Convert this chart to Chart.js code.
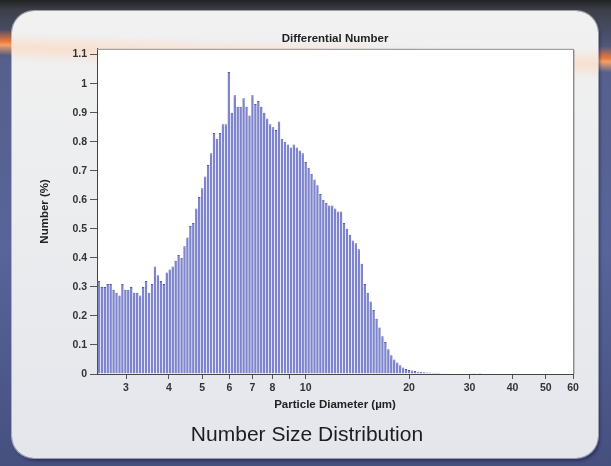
<!DOCTYPE html>
<html>
<head>
<meta charset="utf-8">
<script src="https://cdn.jsdelivr.net/npm/chart.js@4.4.1/dist/chart.umd.min.js"></script>
<style>
    html, body { margin: 0; padding: 0; }
    body {
        width: 611px; height: 466px; overflow: hidden; position: relative;
        background: linear-gradient(180deg, #232326 0px, #3d3f48 10px, #56608c 60px, #58649a 250px, #46507f 466px);
        font-family: "Liberation Sans", Arial, sans-serif;
    }
    .streak {
        position: absolute; left: -20px; top: 38px; width: 660px; height: 26px;
        background: linear-gradient(180deg, rgba(232,110,50,0) 0%, #e9773c 45%, #f3a06a 60%, rgba(232,110,50,0) 100%);
        transform: rotate(1.6deg);
    }
    .panel {
        position: absolute; left: 12px; top: 11px; width: 586px; height: 447px;
        border-radius: 22px; overflow: hidden;
        background: linear-gradient(180deg, #f1f1f1 0%, #ebecee 50%, #e4e6ec 100%);
        box-shadow: 0 0 0 1px rgba(255,255,255,0.5), 2px 3px 3px rgba(20,25,60,0.5);
    }
    .panel .glow {
        position: absolute; left: -20px; top: 30px; width: 640px; height: 30px;
        background: linear-gradient(180deg, rgba(255,215,190,0) 0%, rgba(255,210,180,0.55) 50%, rgba(255,215,190,0) 100%);
        transform: rotate(1.6deg);
    }
    #wrap { position: absolute; left: 0; top: 0; width: 611px; height: 466px; }
    .caption {
        position: absolute; left: 0; top: 422px; width: 614px; text-align: center;
        font-size: 21px; color: #1d1d1d;
    }
</style>
</head>
<body>
<div class="streak"></div>
<div class="panel"><div class="glow"></div></div>
<div id="wrap"><canvas id="sizeChart"></canvas></div>
<div class="caption">Number Size Distribution</div>

<script>
// channel diameters (µm), log spaced
const diameters = [
    2.500, 2.550, 2.601, 2.653, 2.706, 2.760, 2.815, 2.872, 2.929, 2.988,
    3.047, 3.108, 3.171, 3.234, 3.299, 3.365, 3.432, 3.501, 3.571, 3.642,
    3.715, 3.789, 3.865, 3.942, 4.021, 4.102, 4.184, 4.267, 4.353, 4.440,
    4.528, 4.619, 4.711, 4.806, 4.902, 5.000, 5.100, 5.202, 5.306, 5.412,
    5.520, 5.631, 5.743, 5.858, 5.975, 6.095, 6.217, 6.341, 6.468, 6.597,
    6.729, 6.864, 7.001, 7.141, 7.284, 7.429, 7.578, 7.729, 7.884, 8.042,
    8.203, 8.367, 8.534, 8.704, 8.879, 9.056, 9.237, 9.422, 9.611, 9.803,
    9.999, 10.199, 10.403, 10.611, 10.823, 11.040, 11.260, 11.486, 11.715, 11.950,
    12.189, 12.432, 12.681, 12.935, 13.193, 13.457, 13.726, 14.001, 14.281, 14.567,
    14.858, 15.155, 15.458, 15.767, 16.083, 16.404, 16.732, 17.067, 17.408, 17.756,
    18.112, 18.474, 18.843, 19.220, 19.605, 19.997, 20.397, 20.805, 21.221, 21.645,
    22.078, 22.520, 22.970, 23.429, 23.898, 24.376, 24.863, 25.361, 25.868, 26.385,
    26.913, 27.451, 28.000, 28.560, 29.131, 29.714, 30.308, 30.915, 31.533, 32.164
];

// number (%) per channel
const numberPct = [
    0.32, 0.30, 0.30, 0.31, 0.31, 0.29, 0.28, 0.27, 0.31, 0.29,
    0.29, 0.30, 0.28, 0.28, 0.27, 0.30, 0.32, 0.28, 0.31, 0.37,
    0.34, 0.32, 0.31, 0.35, 0.36, 0.37, 0.39, 0.41, 0.40, 0.44,
    0.47, 0.51, 0.52, 0.57, 0.61, 0.64, 0.68, 0.72, 0.76, 0.83,
    0.81, 0.83, 0.86, 0.86, 1.04, 0.90, 0.96, 0.92, 0.92, 0.95,
    0.92, 0.89, 0.96, 0.93, 0.94, 0.92, 0.90, 0.88, 0.86, 0.85,
    0.84, 0.87, 0.81, 0.80, 0.79, 0.78, 0.79, 0.78, 0.77, 0.76,
    0.73, 0.71, 0.69, 0.67, 0.65, 0.62, 0.60, 0.59, 0.58, 0.58,
    0.57, 0.56, 0.56, 0.52, 0.50, 0.48, 0.46, 0.45, 0.43, 0.38,
    0.31, 0.28, 0.25, 0.22, 0.19, 0.16, 0.13, 0.11, 0.085, 0.065,
    0.05, 0.04, 0.03, 0.022, 0.017, 0.014, 0.012, 0.010, 0.008, 0.007,
    0.006, 0.005, 0.005, 0.004, 0.004, 0.004, 0.003, 0.003, 0.003, 0.003,
    0.002, 0.002, 0.003, 0.002, 0.002, 0.002, 0.002, 0.001, 0.002, 0.001
];

const xTickValues = [3, 4, 5, 6, 7, 8, 9, 10, 20, 30, 40, 50, 60];
const xTickHidden = [9];

Chart.defaults.font.family = '"Liberation Sans", Arial, sans-serif';
Chart.defaults.color = '#333';

// white plot area with a grey frame on top and right
const plotFrame = {
    id: 'plotFrame',
    beforeDraw(chart) {
        const { ctx, chartArea: a } = chart;
        ctx.save();
        ctx.fillStyle = '#ffffff';
        ctx.fillRect(a.left, a.top, a.right - a.left, a.bottom - a.top);
        ctx.restore();
    },
    afterDraw(chart) {
        const { ctx, chartArea: a } = chart;
        ctx.save();
        ctx.strokeStyle = '#8a8a8a';
        ctx.lineWidth = 1;
        ctx.beginPath();
        ctx.moveTo(a.left, a.top + 0.5);
        ctx.lineTo(a.right + 0.5, a.top + 0.5);
        ctx.lineTo(a.right + 0.5, a.bottom);
        ctx.stroke();
        ctx.strokeStyle = 'rgba(120,120,130,0.35)';
        ctx.beginPath();
        ctx.moveTo(a.right + 1.5, a.top + 1);
        ctx.lineTo(a.right + 1.5, a.bottom);
        ctx.stroke();
        ctx.restore();
    }
};

const ctx = document.getElementById('sizeChart').getContext('2d');
const sizeChart = new Chart(ctx, {
    type: 'bar',
    data: {
        datasets: [{
            label: 'Number (%)',
            data: diameters.map((d, i) => ({ x: d, y: numberPct[i] })),
            backgroundColor: 'rgba(112,120,198,0.9)',
            borderColor: 'rgba(74,82,168,0.95)',
            borderWidth: { top: 1, left: 0, right: 0, bottom: 0 },
            borderSkipped: 'bottom',
            barPercentage: 1,
            categoryPercentage: 0.88
        }]
    },
    options: {
        responsive: true,
        maintainAspectRatio: false,
        animation: false,
        layout: { padding: { left: 36, top: 28, right: 38, bottom: 55 } },
        plugins: {
            legend: { display: false },
            tooltip: { enabled: false },
            title: {
                display: true,
                text: 'Differential Number',
                fullSize: false,
                color: '#222',
                font: { size: 11.5, weight: 'bold' },
                padding: { top: 4, bottom: 3 }
            }
        },
        scales: {
            x: {
                type: 'logarithmic',
                min: 2.47,
                max: 60,
                offset: false,
                grid: { offset: false, drawOnChartArea: false, drawTicks: true, tickLength: 5, color: '#555' },
                border: { display: true, color: '#444', width: 1 },
                afterBuildTicks(scale) {
                    scale.ticks = xTickValues.map(v => ({ value: v }));
                },
                afterFit(scale) { scale.height = 37; },
                ticks: {
                    autoSkip: false,
                    maxRotation: 0,
                    padding: 3,
                    color: '#333',
                    font: { size: 10.5, weight: 'bold' },
                    callback: (value) => xTickHidden.includes(value) ? '' : String(value)
                },
                title: {
                    display: true,
                    text: 'Particle Diameter (µm)',
                    color: '#222',
                    font: { size: 11.5, weight: 'bold', lineHeight: 1.1 },
                    padding: { top: 0, bottom: 0 }
                }
            },
            y: {
                type: 'linear',
                min: 0,
                max: 1.12,
                grid: { drawOnChartArea: false, drawTicks: true, tickLength: 7, color: '#555' },
                border: { display: true, color: '#444', width: 1 },
                afterFit(scale) { scale.width = 61; },
                ticks: {
                    stepSize: 0.1,
                    includeBounds: false,
                    padding: 3,
                    color: '#333',
                    font: { size: 10.5, weight: 'bold' },
                    callback: (value) => String(Number(value.toFixed(1)))
                },
                title: {
                    display: true,
                    text: 'Number (%)',
                    color: '#222',
                    font: { size: 11.5, weight: 'bold', lineHeight: 1.1 },
                    padding: { top: 3, bottom: 0 }
                }
            }
        }
    },
    plugins: [plotFrame]
});
</script>
</body>
</html>
